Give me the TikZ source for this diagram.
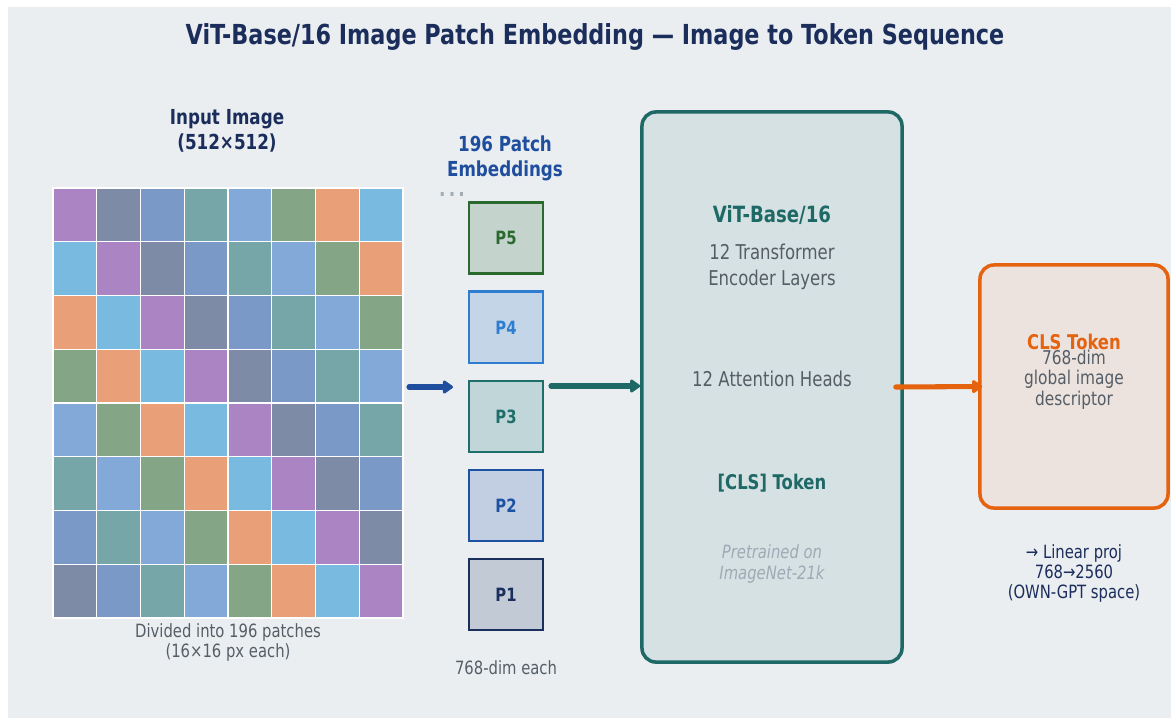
\documentclass[tikz,border=0pt]{standalone}
\usepackage{fontspec}
\setmainfont{DejaVu Sans}[FakeStretch=0.81]
\usetikzlibrary{arrows.meta,positioning}

\definecolor{panelbg}{HTML}{EAEEF1}
\definecolor{navy}{HTML}{1B2D5B}
\definecolor{pblue}{HTML}{1F4E9E}
\definecolor{txtgray}{HTML}{555E66}
\definecolor{vteal}{HTML}{1E6866}
\definecolor{vfill}{HTML}{D5E1E3}
\definecolor{softgray}{HTML}{9EAAB4}
\definecolor{clsorange}{HTML}{E5620E}
\definecolor{clsfill}{HTML}{ECE2DE}
\definecolor{dotgray}{HTML}{A3ABB3}
% grid colours
\definecolor{cell0}{HTML}{AB84C4}
\definecolor{cell1}{HTML}{7D8BA6}
\definecolor{cell2}{HTML}{7B99C7}
\definecolor{cell3}{HTML}{76A6A8}
\definecolor{cell4}{HTML}{82A9D8}
\definecolor{cell5}{HTML}{84A686}
\definecolor{cell6}{HTML}{E99F78}
\definecolor{cell7}{HTML}{79BAE0}
% patch colours
\definecolor{pfivel}{HTML}{2B6A2F}
\definecolor{pfivef}{HTML}{C4D4CC}
\definecolor{pfourl}{HTML}{2F7DD1}
\definecolor{pfourf}{HTML}{C5D5E8}
\definecolor{pthreel}{HTML}{1E6E69}
\definecolor{pthreef}{HTML}{C1D6D8}
\definecolor{ptwol}{HTML}{1D52A3}
\definecolor{ptwof}{HTML}{C2CFE2}
\definecolor{ponel}{HTML}{1B2F5E}
\definecolor{ponef}{HTML}{C2CAD6}

\newcommand{\fsz}[2]{\fontsize{#1}{#2}\selectfont}

\tikzset{
  txt/.style={anchor=base, align=center, inner sep=0pt},
  patchbox/.style={rectangle, draw, line width=2pt, minimum width=1.85cm, minimum height=1.775cm, inner sep=0pt, font=\fsz{13}{15}\bfseries},
  vitbox/.style={rectangle, rounded corners=0.35cm, draw=vteal, fill=vfill, line width=2.5pt, minimum width=6.5cm, minimum height=13.75cm, inner sep=0pt},
  clsbox/.style={rectangle, rounded corners=0.35cm, draw=clsorange, fill=clsfill, line width=2.5pt, minimum width=4.7cm, minimum height=6.075cm, inner sep=0pt},
  flow/.style={line width=3.6pt, line cap=round, -{Triangle[length=0.28cm,width=0.37cm,round]}},
}

\begin{document}
\begin{tikzpicture}[x=0.025cm, y=-0.025cm]

  \useasboundingbox (0,0) rectangle (1171,719);
  \fill[panelbg] (8,7) rectangle (1171,718);

  \node (title) [txt, text=navy, font=\fsz{19.6}{23}\bfseries] at (595,44) {ViT-Base/16 Image Patch Embedding — Image to Token Sequence};

  % input image
  \node (inlbl) [txt, text=navy, font=\fsz{14.7}{17.1}\bfseries] at (227,149) {Input Image\\(512×512)};
  \node (grid) [minimum width=8.75cm, minimum height=10.75cm, inner sep=0pt] at (228,403) {};
  \foreach \r in {0,...,7}
    \foreach \c in {0,...,7} {
      \pgfmathtruncatemacro{\k}{mod(\c-\r+8,8)}
      \fill[cell\k, draw=white, line width=0.9pt] ({53+43.75*\c},{188+53.75*\r}) rectangle +(43.75,53.75);
    }
  \node (gridlbl) [txt, text=txtgray, font=\fsz{13}{14.2}] at (228,657.5) {Divided into 196 patches\\(16×16 px each)};

  % patch embeddings
  \node (emblbl) [txt, text=pblue, font=\fsz{14.7}{17.1}\bfseries] at (505,176) {196 Patch\\Embeddings};
  \node (dots) [txt, text=dotgray, font=\fsz{15}{18}\bfseries] at (452,196) {.\kern2.2pt.\kern2.2pt.};
  \node (p1) [patchbox, draw=ponel, fill=ponef, text=ponel] at (506,594.5) {P1};
  \node (p2) [patchbox, draw=ptwol, fill=ptwof, text=ptwol, above=0.38cm of p1] {P2};
  \node (p3) [patchbox, draw=pthreel, fill=pthreef, text=pthreel, above=0.38cm of p2] {P3};
  \node (p4) [patchbox, draw=pfourl, fill=pfourf, text=pfourl, above=0.38cm of p3] {P4};
  \node (p5) [patchbox, draw=pfivel, fill=pfivef, text=pfivel, above=0.38cm of p4] {P5};
  \node (dimlbl) [txt, text=txtgray, font=\fsz{13}{15}] at (506,674) {768-dim each};

  % encoder
  \node (vit) [vitbox] at (772,387) {};
  \node (vitname) [txt, text=vteal, font=\fsz{15.9}{18}\bfseries] at (772,222) {ViT-Base/16};
  \node (layers) [txt, text=txtgray, font=\fsz{14.5}{17.8}] at (772,285) {12 Transformer\\Encoder Layers};
  \node (heads) [txt, text=txtgray, font=\fsz{14.5}{17.8}] at (772,386) {12 Attention Heads};
  \node (clsin) [txt, text=vteal, font=\fsz{14.4}{17}\bfseries] at (772,489) {[CLS] Token};
  \node (pretr) [txt, text=softgray, font=\fsz{13}{15}\itshape] at (772,579.5) {Pretrained on\\ImageNet-21k};

  % output token
  \node (cls) [clsbox] at (1074,386.5) {};
  \node (clsname) [txt, text=clsorange, font=\fsz{14.4}{17}\bfseries] at (1074,349) {CLS Token};
  \node (clsdesc) [txt, text=txtgray, font=\fsz{13.5}{14.6}] at (1074,405.5) {768-dim\\global image\\descriptor};
  \node (proj) [txt, text=navy, font=\fsz{13}{14.2}] at (1074,598.5) {→ Linear proj\\768→2560\\(OWN-GPT space)};

  % arrows
  \coordinate (gridout) at (409,387);
  \coordinate (embin) at (453,387);
  \coordinate (embout) at (551,386);
  \draw [flow, pblue] (gridout) -- (embin);
  \draw [flow, vteal] (embout) -- (embout -| vit.west);
  \draw [flow, clsorange] ([xshift=-0.2cm]vit.east) -- ([xshift=0.1cm]cls.west);

\end{tikzpicture}
\end{document}
